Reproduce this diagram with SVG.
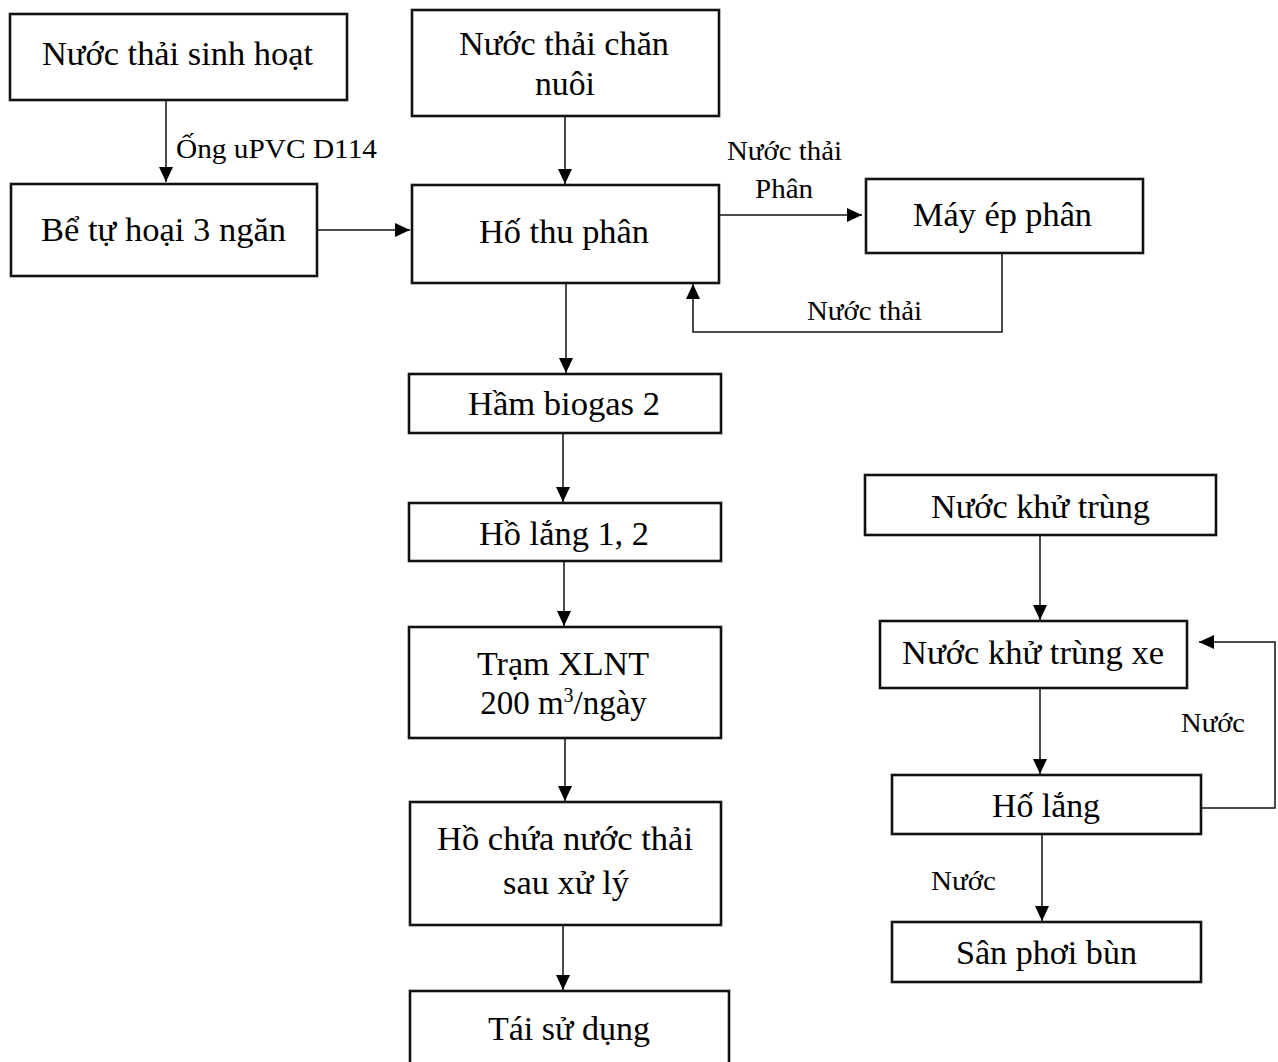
<svg xmlns="http://www.w3.org/2000/svg" width="1278" height="1062" viewBox="0 0 1278 1062">
  <style>
    .box { fill: #fff; stroke: #111; stroke-width: 2.6; }
    .t { font-family: "Liberation Serif", "Times New Roman", serif; font-size: 33px; fill: #000; text-anchor: middle; }
    .lbl { font-family: "Liberation Serif", "Times New Roman", serif; font-size: 28px; fill: #000; text-anchor: middle; }
    .wire { fill: none; stroke: #111; stroke-width: 1.5; }
  </style>
  <defs>
    <marker id="arrow" markerUnits="userSpaceOnUse" markerWidth="16" markerHeight="16" refX="15" refY="7" orient="auto">
      <path d="M0,0 L15,7 L0,14 Z" fill="#000"/>
    </marker>
  </defs>
  <rect width="1278" height="1062" fill="#fff"/>

  <!-- connectors -->
  <g id="connectors">
    <path class="wire" d="M166,100 V182" marker-end="url(#arrow)"/>
    <path class="wire" d="M318,230 H410" marker-end="url(#arrow)"/>
    <path class="wire" d="M565,116 V184" marker-end="url(#arrow)"/>
    <path class="wire" d="M720,215 H862" marker-end="url(#arrow)"/>
    <path class="wire" d="M1002,254 V332 H693 V284" marker-end="url(#arrow)"/>
    <path class="wire" d="M566,283 V373" marker-end="url(#arrow)"/>
    <path class="wire" d="M563,433 V502" marker-end="url(#arrow)"/>
    <path class="wire" d="M564,561 V626" marker-end="url(#arrow)"/>
    <path class="wire" d="M565,738 V801" marker-end="url(#arrow)"/>
    <path class="wire" d="M563,926 V990" marker-end="url(#arrow)"/>
    <path class="wire" d="M1040,535 V620" marker-end="url(#arrow)"/>
    <path class="wire" d="M1040,688 V774" marker-end="url(#arrow)"/>
    <path class="wire" d="M1202,808 H1275 V642 H1199" marker-end="url(#arrow)"/>
    <path class="wire" d="M1042,835 V921" marker-end="url(#arrow)"/>

    <text class="lbl" x="176" y="158" style="text-anchor:start" textLength="201" lengthAdjust="spacingAndGlyphs">Ống uPVC D114</text>
    <text class="lbl" x="784.5" y="160" textLength="115" lengthAdjust="spacingAndGlyphs">Nước thải</text>
    <text class="lbl" x="784" y="198" textLength="58" lengthAdjust="spacingAndGlyphs">Phân</text>
    <text class="lbl" x="864.5" y="320" textLength="115" lengthAdjust="spacingAndGlyphs">Nước thải</text>
    <text class="lbl" x="1213" y="732" textLength="64" lengthAdjust="spacingAndGlyphs">Nước</text>
    <text class="lbl" x="963.5" y="890" textLength="65" lengthAdjust="spacingAndGlyphs">Nước</text>
  </g>

  <!-- nodes -->
  <g id="sinh-hoat">
    <rect class="box" x="10" y="14" width="337" height="86"/>
    <text class="t" x="177.5" y="65" textLength="271" lengthAdjust="spacingAndGlyphs">Nước thải sinh hoạt</text>
  </g>
  <g id="be-tu-hoai">
    <rect class="box" x="11" y="184" width="306" height="92"/>
    <text class="t" x="163.5" y="241" textLength="245" lengthAdjust="spacingAndGlyphs">Bể tự hoại 3 ngăn</text>
  </g>
  <g id="chan-nuoi">
    <rect class="box" x="412" y="10" width="307" height="106"/>
    <text class="t" x="564" y="55" textLength="210" lengthAdjust="spacingAndGlyphs">Nước thải chăn</text>
    <text class="t" x="565" y="95" textLength="60" lengthAdjust="spacingAndGlyphs">nuôi</text>
  </g>
  <g id="ho-thu-phan">
    <rect class="box" x="412" y="185" width="307" height="98"/>
    <text class="t" x="564" y="243" textLength="170" lengthAdjust="spacingAndGlyphs">Hố thu phân</text>
  </g>
  <g id="may-ep-phan">
    <rect class="box" x="866" y="179" width="277" height="74"/>
    <text class="t" x="1002.5" y="226" textLength="179" lengthAdjust="spacingAndGlyphs">Máy ép phân</text>
  </g>
  <g id="ham-biogas">
    <rect class="box" x="409" y="374" width="312" height="59"/>
    <text class="t" x="564" y="415" textLength="192" lengthAdjust="spacingAndGlyphs">Hầm biogas 2</text>
  </g>
  <g id="ho-lang-12">
    <rect class="box" x="409" y="503" width="312" height="58"/>
    <text class="t" x="564" y="545" textLength="170" lengthAdjust="spacingAndGlyphs">Hồ lắng 1, 2</text>
  </g>
  <g id="tram-xlnt">
    <rect class="box" x="409" y="627" width="312" height="111"/>
    <text class="t" x="563" y="675" textLength="172" lengthAdjust="spacingAndGlyphs">Trạm XLNT</text>
    <text class="t" x="563.5" y="714">200 m<tspan font-size="20" dy="-12">3</tspan><tspan dy="12">/ngày</tspan></text>
  </g>
  <g id="ho-chua">
    <rect class="box" x="410" y="802" width="311" height="123"/>
    <text class="t" x="565" y="850" textLength="256" lengthAdjust="spacingAndGlyphs">Hồ chứa nước thải</text>
    <text class="t" x="566" y="894" textLength="126" lengthAdjust="spacingAndGlyphs">sau xử lý</text>
  </g>
  <g id="tai-su-dung">
    <rect class="box" x="410" y="991" width="319" height="80"/>
    <text class="t" x="569" y="1040" textLength="162" lengthAdjust="spacingAndGlyphs">Tái sử dụng</text>
  </g>
  <g id="nuoc-khu-trung">
    <rect class="box" x="865" y="475" width="351" height="60"/>
    <text class="t" x="1040.5" y="518" textLength="219" lengthAdjust="spacingAndGlyphs">Nước khử trùng</text>
  </g>
  <g id="khu-trung-xe">
    <rect class="box" x="880" y="621" width="307" height="67"/>
    <text class="t" x="1033" y="664" textLength="262" lengthAdjust="spacingAndGlyphs">Nước khử trùng xe</text>
  </g>
  <g id="ho-lang">
    <rect class="box" x="892" y="775" width="309" height="59"/>
    <text class="t" x="1046" y="817" textLength="108" lengthAdjust="spacingAndGlyphs">Hố lắng</text>
  </g>
  <g id="san-phoi-bun">
    <rect class="box" x="892" y="922" width="309" height="60"/>
    <text class="t" x="1046.5" y="964" textLength="181" lengthAdjust="spacingAndGlyphs">Sân phơi bùn</text>
  </g>
</svg>
